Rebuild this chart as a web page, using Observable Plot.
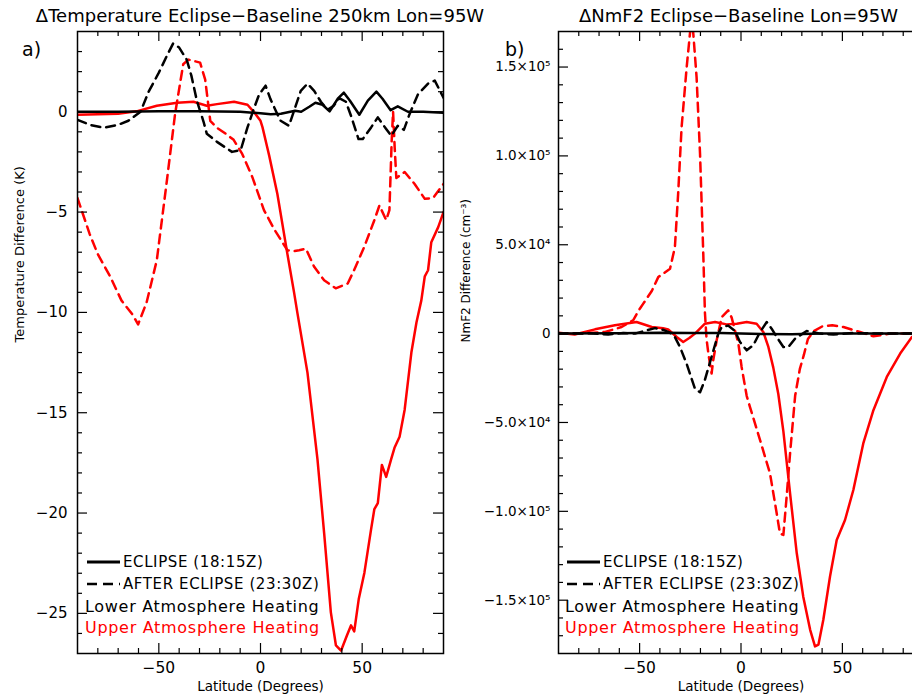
<!DOCTYPE html>
<html><head><meta charset="utf-8">
<script src="https://cdn.jsdelivr.net/npm/d3@7"></script>
<script src="https://cdn.jsdelivr.net/npm/@observablehq/plot@0.6"></script>
<style>
html,body{margin:0;padding:0;background:#fff;overflow:hidden;}
#wrap{position:relative;width:912px;height:700px;overflow:hidden;font-family:"DejaVu Sans",sans-serif;color:#000;}
.panel{position:absolute;top:26px;}
.title{position:absolute;top:5px;transform:translateX(-50%);line-height:22px;font-size:18px;letter-spacing:0px;white-space:nowrap;}
.tag{position:absolute;font-size:19px;line-height:19px;}
svg{display:block;}
</style></head><body><div id="wrap"></div>
<script>
// ---------- Panel a) ΔTemperature (K) ----------
const tLowEclLat = [-90,-70,-50,-30,-10,0,5,10,17,20,24,27,30.5,34,38,41,44,48.6,52.8,57,60,64,67.5,72.5,80,90];
const tLowEclVal = [0,0,0.02,0.02,0,-0.08,-0.12,-0.1,0.05,0.0,0.25,0.45,0.35,0.02,0.65,0.95,0.55,-0.15,0.55,1.0,0.65,0.08,0.27,0.0,0.0,-0.05];

const tLowAftLat = [-90,-84,-77,-70,-65,-59,-55,-50,-46,-43,-40,-36.3,-34,-31.3,-28,-26.4,-21.4,-14,-9.7,-6.4,-3.1,-0.6,2.5,4.9,8.3,9.9,14,16.5,19.8,23.1,26.4,29.7,33,36,38.7,42,44.5,48.2,50.3,54.4,57.7,61.8,64.3,67.5,70.5,73.3,77.5,82.4,85.7,90];
const tLowAftVal = [-0.4,-0.65,-0.8,-0.65,-0.45,0.0,1.0,1.95,2.8,3.4,3.2,2.6,1.8,0.55,-0.5,-1.1,-1.5,-2.0,-1.9,-0.78,0.2,0.88,1.3,0.63,-0.12,-0.45,-0.7,0.05,1.04,1.4,1.04,0.5,0.1,0.3,0.68,0.5,-0.2,-1.36,-1.36,-0.78,-0.28,-0.86,-1.2,-0.7,-0.9,-0.12,0.88,1.4,1.55,0.7];

const tUppAftLat = [-90,-84,-80,-74,-68.4,-63,-60.2,-56,-51,-46,-42,-38,-35.5,-29.7,-27.2,-24.7,-21.4,-17,-13.2,-9,-4,1.7,6.6,13.2,16.5,19,22.3,26.4,31.3,37,42.9,46,51,56,58.5,61.8,63.4,64.5,65.2,66,66.8,70.9,75.8,80.8,84.9,90];
const tUppAftVal = [-4.3,-6.1,-7.1,-8.2,-9.4,-10.1,-10.6,-9.5,-7.4,-3.4,-0.1,2.37,2.6,2.45,1.6,-0.45,-0.8,-1.1,-1.4,-2.1,-3.26,-4.9,-5.83,-6.9,-6.95,-6.9,-6.82,-7.73,-8.4,-8.8,-8.56,-7.9,-6.74,-5.4,-4.67,-5.4,-4.9,-1.5,0,-1.8,-3.3,-3.0,-3.6,-4.34,-4.3,-3.6];

const tUppEclLat = [-90,-80,-70,-61,-51,-41,-33,-26.4,-21.4,-13,-6.4,-3.1,0,1,3.3,4.3,8.3,13.2,16.5,18.1,23.1,28,31.3,34.6,37.1,39.6,42.5,44.5,46.1,48.3,51.1,54.4,56,57.7,59.7,61.8,64.3,65.9,68.4,70.9,74.2,76.7,79.1,80.8,82.4,84,87.4,90];
const tUppEclVal = [-0.15,-0.12,-0.1,0.02,0.3,0.45,0.5,0.3,0.38,0.5,0.35,-0.03,-0.45,-0.78,-1.77,-2.2,-4.1,-7.07,-9.0,-10.0,-13.0,-17.3,-21.0,-24.95,-26.6,-26.86,-26.1,-25.6,-25.9,-24.3,-22.97,-20.8,-19.8,-19.5,-17.6,-18.2,-17.3,-16.75,-16.2,-14.85,-12.0,-10.5,-9.4,-8.2,-7.9,-6.5,-5.75,-5.0];

const tempMajorTicks = [-25,-20,-15,-10,-5,0];
const tempTickLabels = ["−25","−20","−15","−10","−5","0"];

// ---------- Panel b) ΔNmF2 (cm^-3) ----------
const nLowEclLat = [-90,-60,-40,-25,-10,0,10,25,40,60,90];
const nLowEclVal = [0,200,500,300,300,0,-200,-300,0,0,0];

const nLowAftLat = [-90,-82,-75,-65.5,-58,-52.3,-46,-42.4,-38,-35,-32.6,-30.1,-26.8,-22.7,-20.2,-17.8,-14.5,-11.2,-9.5,-6.3,-3,-0.5,2.8,6.1,9.4,12.7,15.1,17.6,20.9,23.4,26.7,32.4,39,45.6,55,70,90];
const nLowAftVal = [0,0,200,-500,300,0,2000,3100,2000,500,-1900,-7500,-17000,-31000,-33000,-26000,-13000,0,3700,4500,1500,-4700,-9400,-6500,900,6500,2800,-1900,-7500,-7500,-2800,1500,0,-500,300,0,0];

const nUppEclLat = [-90,-82,-72,-62.2,-51.5,-44,-38.4,-35.9,-31.7,-28.5,-25.5,-22.7,-17.8,-12.8,-7.1,-2.1,2.8,7.7,11,13.5,15.9,18.4,20.9,24.2,27.5,30.7,34.1,36.5,38.2,40.6,43.9,47.2,51.3,55.4,60.3,65.3,71.9,78.5,84.3,90];
const nUppEclVal = [500,-500,2400,4660,6500,3700,3000,2400,-1900,-4700,-2500,0,5600,6500,5200,5600,6500,5600,900,-7500,-19000,-34000,-55000,-89900,-123600,-148000,-166700,-176000,-175000,-161000,-136700,-116100,-104900,-88000,-61800,-43100,-24400,-11240,-1900,2000];

const nUppAftLat = [-90,-80,-67,-58.9,-53.2,-49.9,-48.2,-44,-40.8,-35,-32.6,-31,-29.3,-26.8,-25.2,-24.3,-23.5,-21.9,-20.2,-18.6,-17.8,-17,-16,-14.5,-13.7,-12,-9.5,-6.3,-4.6,-3,-1.3,0.3,2.8,4.4,9.4,14.3,17.6,19.2,20.9,22.5,24.2,26.7,29,31,33,36,40,45,50.5,58.7,65.3,73.5,90];
const nUppAftVal = [0,0,900,3700,7500,14000,16850,24000,31800,36500,48650,78650,116000,149800,168500,178000,168500,144200,101100,44900,12000,-3000,-12000,-22500,-15000,-3760,9330,13100,9000,1900,-5600,-18750,-35000,-41200,-59900,-78650,-101100,-112400,-113300,-91800,-67400,-35000,-20000,-12000,-3000,1500,4000,4700,3700,900,-1500,0,0];

const nmMajorTicks = [-150000,-100000,-50000,0,50000,100000,150000];
const nmTickLabels = ["−1.5×10⁵","−1.0×10⁵","−5.0×10⁴","0","5.0×10⁴","1.0×10⁵","1.5×10⁵"];

// ---------- shared ----------
const latMajorTicks = [-50,0,50];
const latTickLabels = ["−50","0","50"];
const latMinorTicks = [-80,-70,-60,-40,-30,-20,-10,10,20,30,40,60,70,80];
const legendLabels = ["ECLIPSE (18:15Z)","AFTER ECLIPSE (23:30Z)","Lower Atmosphere Heating","Upper Atmosphere Heating"];
const RED = "#ff0000", BLACK = "#000000";

const rows = (lat, val) => lat.map((x, i) => ({lat: x, v: val[i]}));
const wrap = document.getElementById("wrap");
const SVG_H = 674, MT = 5, MB = 47;

function makePanel(cfg) {
  const FW = cfg.width - cfg.marginLeft - cfg.marginRight;
  const FH = SVG_H - MT - MB;
  const yFmt = v => cfg.yLabels[cfg.yMajor.indexOf(v)];
  const xFmt = v => latTickLabels[latMajorTicks.indexOf(v)];
  const lines = cfg.series.map(s => Plot.line(rows(s.lat, s.val), {
    x: "lat", y: "v", stroke: s.color, strokeWidth: 2.5,
    strokeDasharray: s.dash ? "9,6" : null, clip: true, curve: "linear"
  }));
  const plot = Plot.plot({
    width: cfg.width, height: SVG_H,
    marginLeft: cfg.marginLeft, marginRight: cfg.marginRight, marginTop: MT, marginBottom: MB,
    x: {domain: [-90, 90]},
    y: {domain: cfg.yDomain},
    style: {fontFamily: "DejaVu Sans, sans-serif", color: "black", background: "white", overflow: "visible"},
    marks: [
      Plot.axisX({anchor: "bottom", ticks: latMajorTicks, tickSize: 0, tickPadding: 8, fontSize: 15.5, label: null, tickFormat: xFmt}),
      Plot.axisY({anchor: "left", ticks: cfg.yMajor, tickSize: 0, tickPadding: cfg.yPad, fontSize: cfg.yFont, label: null, tickFormat: yFmt}),
      ...lines,
      Plot.tickX(latMajorTicks, {x: d => d, insetTop: FH - 10, strokeWidth: 1.2}),
      Plot.tickX(latMajorTicks, {x: d => d, insetBottom: FH - 10, strokeWidth: 1.2}),
      Plot.tickX(latMinorTicks, {x: d => d, insetTop: FH - 5, strokeWidth: 1.2}),
      Plot.tickX(latMinorTicks, {x: d => d, insetBottom: FH - 5, strokeWidth: 1.2}),
      Plot.tickY(cfg.yMajor, {y: d => d, insetRight: FW - 10, strokeWidth: 1.2}),
      Plot.tickY(cfg.yMajor, {y: d => d, insetLeft: FW - 10, strokeWidth: 1.2}),
      Plot.tickY(cfg.yMinor, {y: d => d, insetRight: FW - 5, strokeWidth: 1.2}),
      Plot.tickY(cfg.yMinor, {y: d => d, insetLeft: FW - 5, strokeWidth: 1.2}),
      Plot.frame({stroke: "black", strokeWidth: 1.5}),
      Plot.text([cfg.yTitle], {text: d => d, frameAnchor: "left", rotate: -90, dx: cfg.yTitleDx, fontSize: cfg.yTitleFont, fill: "black"}),
      Plot.text(["Latitude (Degrees)"], {text: d => d, frameAnchor: "bottom", dy: 37, fontSize: 13.5, fill: "black"})
    ]
  });
  const panel = document.createElement("div");
  panel.className = "panel";
  panel.style.left = cfg.left + "px";
  panel.style.width = cfg.width + "px";
  panel.appendChild(plot);
  wrap.appendChild(panel);

  const title = document.createElement("div");
  title.className = "title";
  title.style.left = (cfg.left + cfg.marginLeft + FW / 2 + cfg.titleShift) + "px";
  title.textContent = cfg.title;
  wrap.appendChild(title);

  const tag = document.createElement("div");
  tag.className = "tag";
  tag.style.left = cfg.tagX + "px";
  tag.style.top = "40px";
  tag.textContent = cfg.tag;
  wrap.appendChild(tag);

  // legend (inside frame, lower-left)
  const lx = cfg.legendX;
  const ns = "http://www.w3.org/2000/svg";
  const lg = document.createElementNS(ns, "svg");
  lg.setAttribute("width", "300"); lg.setAttribute("height", "90");
  lg.style.position = "absolute"; lg.style.left = lx + "px"; lg.style.top = "550px"; lg.style.pointerEvents = "none";
  const ys = [12, 34, 56, 77];
  const l1 = document.createElementNS(ns, "line");
  l1.setAttribute("x1", 2); l1.setAttribute("x2", 35); l1.setAttribute("y1", ys[0]); l1.setAttribute("y2", ys[0]);
  l1.setAttribute("stroke", BLACK); l1.setAttribute("stroke-width", "3");
  lg.appendChild(l1);
  const l2 = document.createElementNS(ns, "line");
  l2.setAttribute("x1", 2); l2.setAttribute("x2", 35); l2.setAttribute("y1", ys[1]); l2.setAttribute("y2", ys[1]);
  l2.setAttribute("stroke", BLACK); l2.setAttribute("stroke-width", "2.5"); l2.setAttribute("stroke-dasharray", "10,6");
  lg.appendChild(l2);
  legendLabels.forEach((s, i) => {
    const t = document.createElementNS(ns, "text");
    t.setAttribute("x", i < 2 ? 38 : 0);
    t.setAttribute("y", ys[i]);
    t.setAttribute("dominant-baseline", "central");
    t.setAttribute("font-family", "DejaVu Sans, sans-serif");
    t.setAttribute("font-size", i < 2 ? "15" : "16");
    t.setAttribute("letter-spacing", i < 2 ? "0.6" : "0.7");
    t.setAttribute("fill", i === 3 ? RED : BLACK);
    t.textContent = s;
    lg.appendChild(t);
  });
  wrap.appendChild(lg);
}

makePanel({
  left: 0, width: 460, marginLeft: 77, marginRight: 17, titleShift: 0,
  title: "ΔTemperature Eclipse−Baseline 250km Lon=95W",
  yDomain: [-27, 4],
  yMajor: tempMajorTicks, yLabels: tempTickLabels,
  yMinor: d3.range(-26, 4).filter(v => v % 5 !== 0),
  yPad: 10, yFont: 15,
  yTitle: "Temperature Difference (K)", yTitleDx: -58, yTitleFont: 13,
  tag: "a)", tagX: 22, legendX: 85,
  series: [
    {lat: tUppAftLat, val: tUppAftVal, color: RED, dash: true},
    {lat: tUppEclLat, val: tUppEclVal, color: RED, dash: false},
    {lat: tLowAftLat, val: tLowAftVal, color: BLACK, dash: true},
    {lat: tLowEclLat, val: tLowEclVal, color: BLACK, dash: false}
  ]
});

makePanel({
  left: 460, width: 480, marginLeft: 98, marginRight: 17, titleShift: -2,
  title: "ΔNmF2 Eclipse−Baseline Lon=95W",
  yDomain: [-180000, 170000],
  yMajor: nmMajorTicks, yLabels: nmTickLabels,
  yMinor: d3.range(-170000, 170000, 10000).filter(v => v % 50000 !== 0),
  yPad: 8, yFont: 13.5,
  yTitle: "NmF2 Difference (cm⁻³)", yTitleDx: -92, yTitleFont: 12,
  tag: "b)", tagX: 505, legendX: 565,
  series: [
    {lat: nUppAftLat, val: nUppAftVal, color: RED, dash: true},
    {lat: nUppEclLat, val: nUppEclVal, color: RED, dash: false},
    {lat: nLowAftLat, val: nLowAftVal, color: BLACK, dash: true},
    {lat: nLowEclLat, val: nLowEclVal, color: BLACK, dash: false}
  ]
});
</script></body></html>
